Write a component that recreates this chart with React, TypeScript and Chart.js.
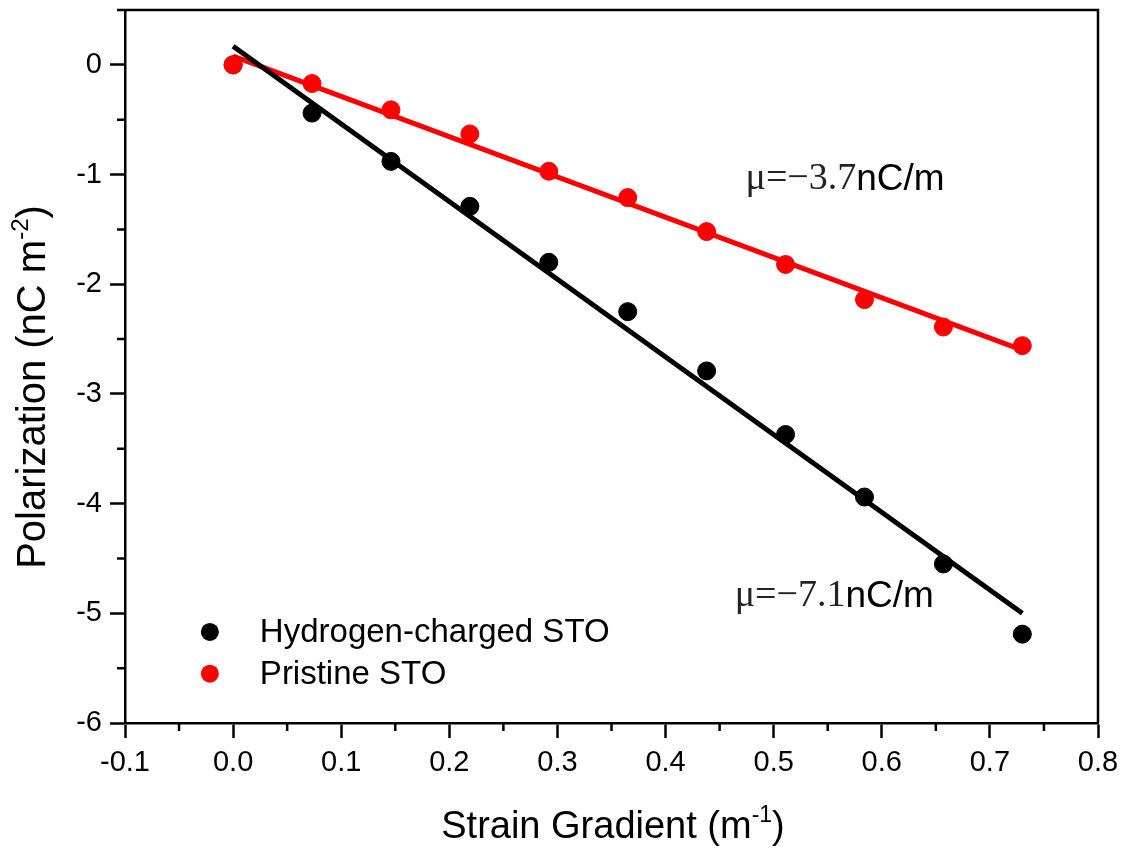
import React, { useEffect, useRef } from "react";
import { Chart, registerables } from "chart.js";

Chart.register(...registerables);

const strainGradient = [0, 0.073, 0.146, 0.219, 0.292, 0.365, 0.438, 0.511, 0.584, 0.657, 0.73];
const hydrogenCharged = [0, -0.44, -0.88, -1.29, -1.8, -2.25, -2.79, -3.37, -3.94, -4.55, -5.19];
const pristine = [0, -0.17, -0.41, -0.63, -0.97, -1.21, -1.52, -1.82, -2.14, -2.39, -2.56];
const fitX = [0, 0.73];
const hydrogenFit = [0.17, -5.0];
const pristineFit = [0.08, -2.6];
const seriesNames = ["Hydrogen-charged STO", "Pristine STO"];
const xTicks = [-0.1, 0, 0.1, 0.2, 0.3, 0.4, 0.5, 0.6, 0.7, 0.8];
const yTicks = [0, -1, -2, -3, -4, -5, -6];
const annotations = [
  { x: 0.474, y: -1.04, greek: "μ=−3.7", rest: "nC/m" },
  { x: 0.464, y: -4.84, greek: "μ=−7.1", rest: "nC/m" },
];

const SANS = "Arial, 'Liberation Sans', sans-serif";
const SERIF = "'Times New Roman', 'Liberation Serif', serif";

const toPts = (xs: number[], ys: number[]) => xs.map((x, i) => ({ x, y: ys[i] }));

const decorPlugin = {
  id: "decor",
  afterDraw(chart: any) {
    const { ctx, chartArea, scales } = chart;
    const xs = scales.x;
    const ys = scales.y;
    ctx.save();
    ctx.strokeStyle = "#000";
    ctx.lineWidth = 2.5;
    ctx.beginPath();
    ctx.moveTo(chartArea.left, chartArea.top);
    ctx.lineTo(chartArea.right, chartArea.top);
    ctx.lineTo(chartArea.right, chartArea.bottom);
    ctx.stroke();
    ctx.beginPath();
    for (let i = 0; i < xTicks.length - 1; i++) {
      const px = xs.getPixelForValue((xTicks[i] + xTicks[i + 1]) / 2);
      ctx.moveTo(px, chartArea.bottom);
      ctx.lineTo(px, chartArea.bottom + 8);
    }
    const yMinor = [0.5, -0.5, -1.5, -2.5, -3.5, -4.5, -5.5];
    for (const v of yMinor) {
      const py = ys.getPixelForValue(v);
      ctx.moveTo(chartArea.left, py);
      ctx.lineTo(chartArea.left - 8, py);
    }
    ctx.stroke();

    ctx.fillStyle = "#000";
    ctx.textBaseline = "alphabetic";
    const drawSup = (main: string, sup: string, tail: string, size: number) => {
      const supSize = Math.round(size * 0.6);
      ctx.font = `${size}px ${SANS}`;
      const w1 = ctx.measureText(main).width;
      ctx.font = `${supSize}px ${SANS}`;
      const w2 = ctx.measureText(sup).width;
      ctx.font = `${size}px ${SANS}`;
      const w3 = ctx.measureText(tail).width;
      const total = w1 + w2 + w3;
      let x = -total / 2;
      ctx.textAlign = "left";
      ctx.fillText(main, x, 0);
      x += w1;
      ctx.font = `${supSize}px ${SANS}`;
      ctx.fillText(sup, x, -size * 0.42);
      x += w2;
      ctx.font = `${size}px ${SANS}`;
      ctx.fillText(tail, x, 0);
    };
    ctx.save();
    ctx.translate(613, 838);
    drawSup("Strain Gradient (m", "-1", ")", 38);
    ctx.restore();
    ctx.save();
    ctx.translate(45, 387);
    ctx.rotate(-Math.PI / 2);
    drawSup("Polarization (nC m", "-2", ")", 40);
    ctx.restore();

    const legendColors = [chart.data.datasets[0].backgroundColor, chart.data.datasets[1].backgroundColor];
    const lx = xs.getPixelForValue(-0.0215);
    const ly0 = ys.getPixelForValue(-5.17);
    const ly1 = ys.getPixelForValue(-5.55);
    [ly0, ly1].forEach((ly, i) => {
      ctx.beginPath();
      ctx.fillStyle = legendColors[i];
      ctx.arc(lx, ly, 9, 0, Math.PI * 2);
      ctx.fill();
      ctx.fillStyle = "#000";
      ctx.font = `33px ${SANS}`;
      ctx.textAlign = "left";
      ctx.textBaseline = "middle";
      ctx.fillText(seriesNames[i], lx + 50, ly + 1);
    });

    ctx.textBaseline = "middle";
    for (const a of annotations) {
      const ax = xs.getPixelForValue(a.x);
      const ay = ys.getPixelForValue(a.y);
      ctx.font = `38px ${SERIF}`;
      ctx.textAlign = "left";
      ctx.fillStyle = "#222";
      ctx.fillText(a.greek, ax, ay);
      const w = ctx.measureText(a.greek).width;
      ctx.font = `37px ${SANS}`;
      ctx.fillStyle = "#000";
      ctx.fillText(a.rest, ax + w, ay + 1);
    }
    ctx.restore();
  },
};

export default function App() {
  const ref = useRef<HTMLCanvasElement | null>(null);
  useEffect(() => {
    if (!ref.current) return;
    const chart = new Chart(ref.current, {
      type: "scatter",
      data: {
        datasets: [
          {
            label: seriesNames[0],
            data: toPts(strainGradient, hydrogenCharged),
            backgroundColor: "#000000",
            borderColor: "#000000",
            pointRadius: 9,
            pointHoverRadius: 9,
            showLine: false,
            order: 1,
          },
          {
            label: seriesNames[1],
            data: toPts(strainGradient, pristine),
            backgroundColor: "#ff0000",
            borderColor: "#ff0000",
            pointRadius: 9,
            pointHoverRadius: 9,
            showLine: false,
            order: 0,
          },
          {
            type: "line",
            label: "Hydrogen fit",
            data: toPts(fitX, hydrogenFit),
            borderColor: "#000000",
            borderWidth: 5,
            pointRadius: 0,
            fill: false,
            order: 2,
          } as any,
          {
            type: "line",
            label: "Pristine fit",
            data: toPts(fitX, pristineFit),
            borderColor: "#ff0000",
            borderWidth: 5,
            pointRadius: 0,
            fill: false,
            order: 3,
          } as any,
        ],
      },
      options: {
        responsive: false,
        animation: false,
        layout: { padding: { left: 0, top: 9, right: 28, bottom: 0 } },
        plugins: { legend: { display: false }, tooltip: { enabled: false } },
        scales: {
          x: {
            type: "linear",
            min: -0.1,
            max: 0.8,
            afterFit: (s: any) => {
              s.height = 127;
              s.paddingLeft = 0;
              s.paddingRight = 0;
            },
            afterBuildTicks: (s: any) => {
              s.ticks = xTicks.map((v) => ({ value: v }));
            },
            grid: {
              drawOnChartArea: false,
              drawTicks: true,
              tickLength: 15,
              tickWidth: 2.5,
              tickColor: "#000",
            },
            border: { display: true, color: "#000", width: 2.5 },
            ticks: {
              color: "#000",
              font: { family: SANS, size: 29 },
              padding: 8,
              maxRotation: 0,
              autoSkip: false,
              callback: (v: any) => Number(v).toFixed(1),
            },
          },
          y: {
            type: "linear",
            min: -6,
            max: 0.5,
            afterFit: (s: any) => {
              s.width = 125;
              s.paddingTop = 0;
              s.paddingBottom = 0;
            },
            afterBuildTicks: (s: any) => {
              s.ticks = yTicks.map((v) => ({ value: v }));
            },
            grid: {
              drawOnChartArea: false,
              drawTicks: true,
              tickLength: 15,
              tickWidth: 2.5,
              tickColor: "#000",
            },
            border: { display: true, color: "#000", width: 2.5 },
            ticks: {
              color: "#000",
              font: { family: SANS, size: 29 },
              padding: 8,
              autoSkip: false,
              callback: (v: any) => String(v),
            },
          },
        },
      },
      plugins: [decorPlugin],
    } as any);
    return () => chart.destroy();
  }, []);
  return (
    <div style={{ position: "absolute", left: 0, top: 0, width: 1126, height: 850, background: "#fff" }}>
      <canvas ref={ref} width={1126} height={850} style={{ display: "block" }} />
    </div>
  );
}
